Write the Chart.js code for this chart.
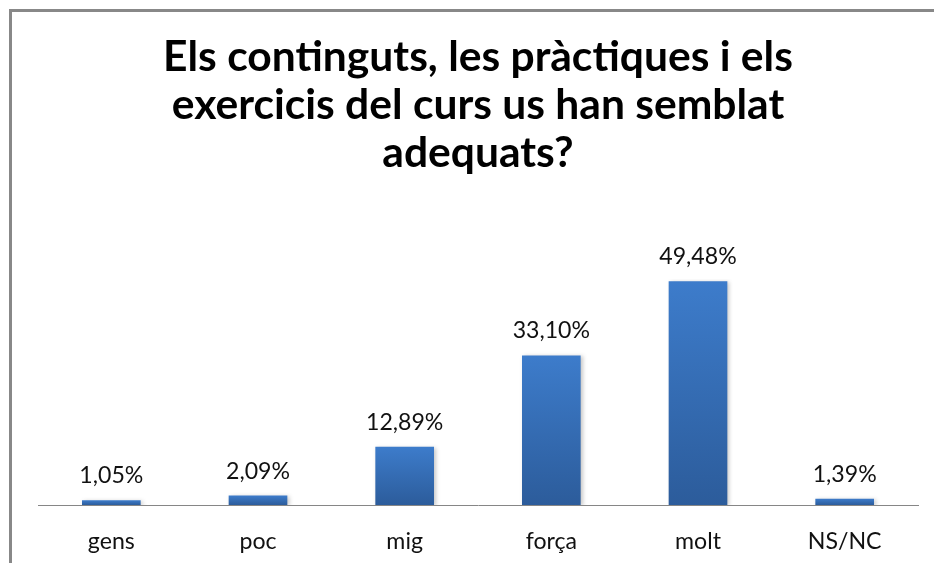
<!DOCTYPE html>
<html>
<head>
<meta charset="utf-8">
<script src="https://cdn.jsdelivr.net/npm/chart.js@4"></script>
<style>
  html, body { margin: 0; padding: 0; background: #fff; overflow: hidden; }
  #frame { position: absolute; left: 9px; top: 9px; border-left: 3px solid #888; border-top: 3px solid #888; }
  #wrap { position: relative; width: 932px; height: 551px; }
</style>
</head>
<body>
<div id="frame"><div id="wrap"><canvas id="c"></canvas></div></div>
<script>
const titleLines = ["Els continguts, les pràctiques i els", "exercicis del curs us han semblat", "adequats?"];
const categories = ["gens", "poc", "mig", "força", "molt", "NS/NC"];
const percentages = [1.05, 2.09, 12.89, 33.10, 49.48, 1.39];

const FAMILY = "Lato, 'Open Sans', sans-serif";
const mctx = document.createElement('canvas').getContext('2d');
function fit(text, weight, target) {
  mctx.font = weight + " 100px " + FAMILY;
  return 100 * target / mctx.measureText(text).width;
}
const titleSize = Math.min(fit(titleLines[0], 'bold', 630), 44);
const labelSize = fit("1,05%", 'normal', 64);
const tickSize = fit("gens", 'normal', 47);

function fmt(v) { return v.toFixed(2).replace('.', ',') + '%'; }

const valueLabels = {
  id: 'valueLabels',
  afterDatasetsDraw(chart) {
    const ctx = chart.ctx;
    const meta = chart.getDatasetMeta(0);
    ctx.save();
    ctx.font = "normal " + labelSize + "px " + FAMILY;
    ctx.fillStyle = '#111';
    ctx.textAlign = 'center';
    ctx.textBaseline = 'alphabetic';
    meta.data.forEach((bar, i) => {
      ctx.fillText(fmt(chart.data.datasets[0].data[i]), bar.x, bar.y - 17);
    });
    ctx.restore();
  }
};
const barShadow = {
  id: 'barShadow',
  beforeDatasetDraw(chart) {
    const ctx = chart.ctx;
    ctx.save();
    ctx.shadowColor = 'rgba(0,0,0,0.22)';
    ctx.shadowBlur = 4;
    ctx.shadowOffsetX = 2;
    ctx.shadowOffsetY = 1;
  },
  afterDatasetDraw(chart) { chart.ctx.restore(); }
};

new Chart(document.getElementById('c'), {
  type: 'bar',
  data: {
    labels: categories,
    datasets: [{
      data: percentages,
      backgroundColor(context) {
        const chart = context.chart;
        const y = chart.scales && chart.scales.y;
        if (!chart.chartArea || !y || context.raw === undefined) return '#3570b8';
        const top = y.getPixelForValue(context.raw);
        const bottom = y.getPixelForValue(0);
        const g = chart.ctx.createLinearGradient(0, top, 0, bottom);
        g.addColorStop(0, '#3d7ccb');
        g.addColorStop(1, '#2c5c9b');
        return g;
      },
      borderWidth: 0,
      barPercentage: 0.4,
      categoryPercentage: 1.0
    }]
  },
  options: {
    responsive: true,
    maintainAspectRatio: false,
    animation: false,
    layout: { padding: { left: 26, right: 26, top: 0, bottom: 0 } },
    plugins: {
      legend: { display: false },
      tooltip: { enabled: false },
      title: {
        display: true,
        text: titleLines,
        color: '#000',
        font: { family: FAMILY, weight: 'bold', size: titleSize, lineHeight: 48 / titleSize },
        padding: { top: 21, bottom: 102 }
      }
    },
    scales: {
      x: {
        grid: { display: false },
        border: { display: true, color: '#868686', width: 1 },
        ticks: { color: '#111', font: { family: FAMILY, size: tickSize }, padding: 15 },
        afterFit(scale) { scale.height = 58; }
      },
      y: {
        display: false,
        min: 0,
        max: 50
      }
    }
  },
  plugins: [barShadow, valueLabels]
});
</script>
</body>
</html>
